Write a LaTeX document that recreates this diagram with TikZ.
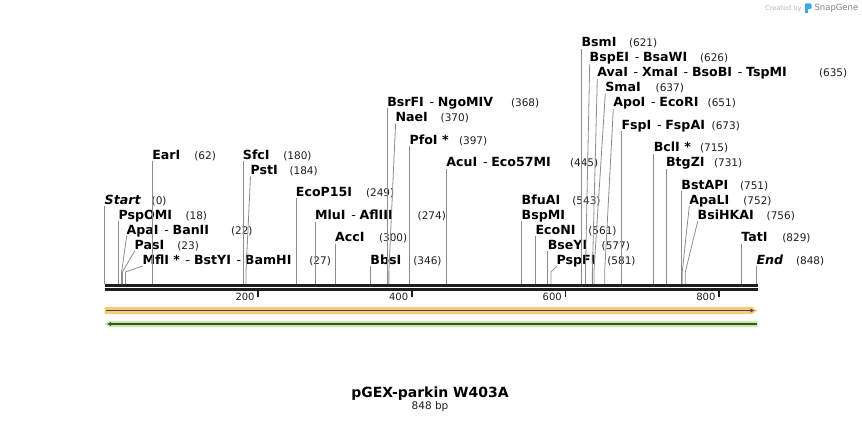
\documentclass[tikz,border=0pt]{standalone}
\usepackage{fontspec}
\setmainfont{DejaVu Sans}[
    ItalicFont = {DejaVu Sans Oblique},
    BoldItalicFont = {DejaVu Sans Bold Oblique}]
\usepackage{tikz}
\usetikzlibrary{arrows.meta, calc, positioning}
\usepackage{xcolor}
\definecolor{sgline}{HTML}{8C8C8C}
\definecolor{sgdark}{HTML}{1E1E1E}
\definecolor{sgorange}{HTML}{FBCB7C}
\definecolor{sggreen}{HTML}{BDF398}
\definecolor{sgarrow}{HTML}{474747}
\definecolor{sgblue}{HTML}{3EA5E6}
% bp position -> x on the map
\newcommand{\sitex}[1]{104.7+0.768*#1}
% separator between isoschizomer names
\newcommand{\dsh}{\hspace{0.45em}{\mdseries -}\hspace{0.3em}}
% line from a cut site up to its label
\newcommand{\cutline}[2]{\draw[siteline] (#1) -- ++(0,-12) -- ([yshift=-2pt]#2.base west);}
\tikzset{
enzyme/.style = {%
    anchor=base west, inner sep=0pt, outer sep=0pt,
    font=\fontsize{12.6}{15}\selectfont\bfseries},
bpnum/.style = {%
    anchor=base west, inner sep=0pt, outer sep=0pt, text=sgdark,
    font=\fontsize{10.5}{12}\selectfont},
siteline/.style = {draw=sgline, line width=0.8pt},
backbone/.style = {draw=sgdark, line width=2.6pt},
featarrow/.style = {draw=sgarrow, line width=1.4pt},
ticklbl/.style = {anchor=base east, inner sep=0pt, text=sgdark,
    font=\fontsize{10}{12}\selectfont}
}
\begin{document}
\begin{tikzpicture}[x=1pt, y=-1pt]
        \useasboundingbox (0,0) rectangle (862,423);

        % Sequence backbone
        \draw[backbone] (104.5,285.3) -- (757.5,285.3);
        \draw[backbone] (104.5,289.3) -- (757.5,289.3);

        % Ruler ticks
        \foreach \t in {200,400,600,800} {
            \coordinate (t\t) at ({\sitex{\t}},290);
            \draw[draw=sgdark, line width=1.8pt] (t\t) -- ++(0,7);
            \path (t\t) ++(-3.5,10) node[ticklbl] (l\t) {\t};
        }

        % Cut site coordinates
        \coordinate (sStart)   at ({\sitex{0}},284);
        \coordinate (sPspOMI)  at ({\sitex{18}},284);
        \coordinate (sApaI)    at ({\sitex{22}},284);
        \coordinate (sPasI)    at ({\sitex{23}},284);
        \coordinate (sMflI)    at ({\sitex{27}},284);
        \coordinate (sEarI)    at ({\sitex{62}},284);
        \coordinate (sSfcI)    at ({\sitex{180}},284);
        \coordinate (sPstI)    at ({\sitex{184}},284);
        \coordinate (sEcoP15I) at ({\sitex{249}},284);
        \coordinate (sMluI)    at ({\sitex{274}},284);
        \coordinate (sAccI)    at ({\sitex{300}},284);
        \coordinate (sBbsI)    at ({\sitex{346}},284);
        \coordinate (sBsrFI)   at ({\sitex{368}},284);
        \coordinate (sNaeI)    at ({\sitex{370}},284);
        \coordinate (sPfoI)    at ({\sitex{397}},284);
        \coordinate (sAcuI)    at ({\sitex{445}},284);
        \coordinate (sBfuAI)   at ({\sitex{543}},284);
        \coordinate (sEcoNI)   at ({\sitex{561}},284);
        \coordinate (sBseYI)   at ({\sitex{577}},284);
        \coordinate (sPspFI)   at ({\sitex{581}},284);
        \coordinate (sBsmI)    at ({\sitex{621}},284);
        \coordinate (sBspEI)   at ({\sitex{626}},284);
        \coordinate (sAvaI)    at ({\sitex{635}},284);
        \coordinate (sSmaI)    at ({\sitex{637}},284);
        \coordinate (sApoI)    at ({\sitex{651}},284);
        \coordinate (sFspI)    at ({\sitex{673}},284);
        \coordinate (sBclI)    at ({\sitex{715}},284);
        \coordinate (sBtgZI)   at ({\sitex{731}},284);
        \coordinate (sBstAPI)  at ({\sitex{751}},284);
        \coordinate (sApaLI)   at ({\sitex{752}},284);
        \coordinate (sBsiHKAI) at ({\sitex{756}},284);
        \coordinate (sTatI)    at ({\sitex{829}},284);
        \coordinate (sEnd)     at (756.5,284);

        % Enzyme labels, left group
        \node[enzyme] at ({\sitex{0}},204)    (Start)   {\textit{Start}};
        \node[enzyme] at ({\sitex{18}},219)   (PspOMI)  {PspOMI};
        \node[enzyme] at (126.7,234)          (ApaI)    {ApaI\dsh BanII};
        \node[enzyme] at (134.7,249)          (PasI)    {PasI};
        \node[enzyme] at (142.5,264)          (MflI)    {MflI *\dsh BstYI\dsh BamHI};
        \node[enzyme] at ({\sitex{62}},159.3) (EarI)    {EarI};
        \node[enzyme] at ({\sitex{180}},159.3) (SfcI)   {SfcI};
        \node[enzyme] at (250.5,174.3)        (PstI)    {PstI};
        \node[enzyme] at ({\sitex{249}},196)  (EcoP15I) {EcoP15I};
        \node[enzyme] at ({\sitex{274}},219.7) (MluI)   {MluI\dsh AflIII};
        \node[enzyme] at ({\sitex{300}},241.7) (AccI)   {AccI};
        \node[enzyme] at ({\sitex{346}},264.3) (BbsI)   {BbsI};

        % Enzyme labels, middle group
        \node[enzyme] at ({\sitex{368}},106)  (BsrFI)   {BsrFI\dsh NgoMIV};
        \node[enzyme] at (395.6,121.5)        (NaeI)    {NaeI};
        \node[enzyme] at ({\sitex{397}},144.3) (PfoI)   {PfoI *};
        \node[enzyme] at ({\sitex{445}},166.7) (AcuI)   {AcuI\dsh Eco57MI};
        \node[enzyme] at ({\sitex{543}},204.3) (BfuAI)  {BfuAI};
        \node[enzyme] at ({\sitex{543}},219.3) (BspMI)  {BspMI};
        \node[enzyme] at ({\sitex{561}},234.3) (EcoNI)  {EcoNI};
        \node[enzyme] at ({\sitex{577}},249.3) (BseYI)  {BseYI};
        \node[enzyme] at (556.6,264.3)        (PspFI)   {PspFI};

        % Enzyme labels, right group
        \node[enzyme] at ({\sitex{621}},46.5) (BsmI)    {BsmI};
        \node[enzyme] at (589.7,61.7)         (BspEI)   {BspEI\dsh BsaWI};
        \node[enzyme] at (597.3,76.7)         (AvaI)    {AvaI\dsh XmaI\dsh BsoBI\dsh TspMI};
        \node[enzyme] at (605.3,91.7)         (SmaI)    {SmaI};
        \node[enzyme] at (613.3,106.7)        (ApoI)    {ApoI\dsh EcoRI};
        \node[enzyme] at ({\sitex{673}},129.3) (FspI)   {FspI\dsh FspAI};
        \node[enzyme] at ({\sitex{715}},151.7) (BclI)   {BclI *};
        \node[enzyme] at ({\sitex{731}},166.7) (BtgZI)  {BtgZI};
        \node[enzyme] at ({\sitex{751}},189.3) (BstAPI) {BstAPI};
        \node[enzyme] at (689.3,204)          (ApaLI)   {ApaLI};
        \node[enzyme] at (697.7,219.3)        (BsiHKAI) {BsiHKAI};
        \node[enzyme] at ({\sitex{829}},241.7) (TatI)   {TatI};
        \node[enzyme] at (756.5,264)          (End)     {\textit{End}};

        % Positions in bp
        \node[bpnum] at (151.7,204)   (nStart)   {(0)};
        \node[bpnum] at (185.5,219)   (nPspOMI)  {(18)};
        \node[bpnum] at (231,234)     (nApaI)    {(22)};
        \node[bpnum] at (177.3,249)   (nPasI)    {(23)};
        \node[bpnum] at (309.3,264)   (nMflI)    {(27)};
        \node[bpnum] at (194.3,159.3) (nEarI)    {(62)};
        \node[bpnum] at (283.3,159.3) (nSfcI)    {(180)};
        \node[bpnum] at (289.5,174.3) (nPstI)    {(184)};
        \node[bpnum] at (366,196)     (nEcoP15I) {(249)};
        \node[bpnum] at (417.7,219.7) (nMluI)    {(274)};
        \node[bpnum] at (379,241.7)   (nAccI)    {(300)};
        \node[bpnum] at (413.3,264.3) (nBbsI)    {(346)};
        \node[bpnum] at (511,106)     (nBsrFI)   {(368)};
        \node[bpnum] at (440.7,121.5) (nNaeI)    {(370)};
        \node[bpnum] at (459,144.3)   (nPfoI)    {(397)};
        \node[bpnum] at (570,166.7)   (nAcuI)    {(445)};
        \node[bpnum] at (572.3,204.3) (nBfuAI)   {(543)};
        \node[bpnum] at (588.3,234.3) (nEcoNI)   {(561)};
        \node[bpnum] at (601.7,249.3) (nBseYI)   {(577)};
        \node[bpnum] at (607.3,264.3) (nPspFI)   {(581)};
        \node[bpnum] at (629,46.5)    (nBsmI)    {(621)};
        \node[bpnum] at (700,61.7)    (nBspEI)   {(626)};
        \node[bpnum] at (819,76.7)    (nAvaI)    {(635)};
        \node[bpnum] at (655.7,91.7)  (nSmaI)    {(637)};
        \node[bpnum] at (707.7,106.7) (nApoI)    {(651)};
        \node[bpnum] at (711.7,129.3) (nFspI)    {(673)};
        \node[bpnum] at (700,151.7)   (nBclI)    {(715)};
        \node[bpnum] at (714,166.7)   (nBtgZI)   {(731)};
        \node[bpnum] at (740,189.3)   (nBstAPI)  {(751)};
        \node[bpnum] at (743.3,204)   (nApaLI)   {(752)};
        \node[bpnum] at (766.7,219.3) (nBsiHKAI) {(756)};
        \node[bpnum] at (782.3,241.7) (nTatI)    {(829)};
        \node[bpnum] at (796,264)     (nEnd)     {(848)};

        % Lines from cut sites to labels
        \cutline{sStart}{Start}
        \cutline{sPspOMI}{PspOMI}
        \cutline{sApaI}{ApaI}
        \cutline{sPasI}{PasI}
        \cutline{sMflI}{MflI}
        \cutline{sEarI}{EarI}
        \cutline{sSfcI}{SfcI}
        \cutline{sPstI}{PstI}
        \cutline{sEcoP15I}{EcoP15I}
        \cutline{sMluI}{MluI}
        \cutline{sAccI}{AccI}
        \cutline{sBbsI}{BbsI}
        \cutline{sBsrFI}{BsrFI}
        \cutline{sNaeI}{NaeI}
        \cutline{sPfoI}{PfoI}
        \cutline{sAcuI}{AcuI}
        \cutline{sBfuAI}{BspMI}
        \cutline{sEcoNI}{EcoNI}
        \cutline{sBseYI}{BseYI}
        \cutline{sPspFI}{PspFI}
        \cutline{sBsmI}{BsmI}
        \cutline{sBspEI}{BspEI}
        \cutline{sAvaI}{AvaI}
        \cutline{sSmaI}{SmaI}
        \cutline{sApoI}{ApoI}
        \cutline{sFspI}{FspI}
        \cutline{sBclI}{BclI}
        \cutline{sBtgZI}{BtgZI}
        \cutline{sBstAPI}{BstAPI}
        \cutline{sApaLI}{ApaLI}
        \cutline{sBsiHKAI}{BsiHKAI}
        \cutline{sTatI}{TatI}
        \cutline{sEnd}{End}

        % Features
        \fill[sgorange] (104.5,307) -- (752,307) -- (757.5,310.5) -- (752,314) -- (104.5,314) -- cycle;
        \draw[featarrow, -{Latex[length=4pt,width=4.5pt]}] (105.5,310.5) -- (754.5,310.5);
        \fill[sggreen] (757.5,321) -- (110,321) -- (104.5,324) -- (110,327) -- (757.5,327) -- cycle;
        \draw[featarrow, -{Latex[length=4pt,width=4.5pt]}] (756.5,324) -- (107,324);

        % Title
        \node[anchor=base, inner sep=0pt, font=\fontsize{14}{16}\selectfont\bfseries] at (430,397.7) (title) {pGEX-parkin W403A};
        \node[anchor=base, inner sep=0pt, text=sgdark, font=\fontsize{10.5}{12}\selectfont] at (430,409.3) (length) {848 bp};

        % Created by SnapGene
        \node[anchor=base west, inner sep=0pt, text=black!28, font=\fontsize{6.6}{8}\selectfont] at (765,10) (created) {Created by};
        \fill[sgblue, rounded corners=1.2pt] (804.8,3.4) rectangle (811.5,9.2);
        \fill[sgblue] (804.8,5) rectangle (807.6,12.7);
        \node[anchor=base west, inner sep=0pt, text=black!50, font=\fontsize{8.5}{10}\selectfont] at (814.3,10.5) (snapgene) {SnapGene};

    \end{tikzpicture}
\end{document}
